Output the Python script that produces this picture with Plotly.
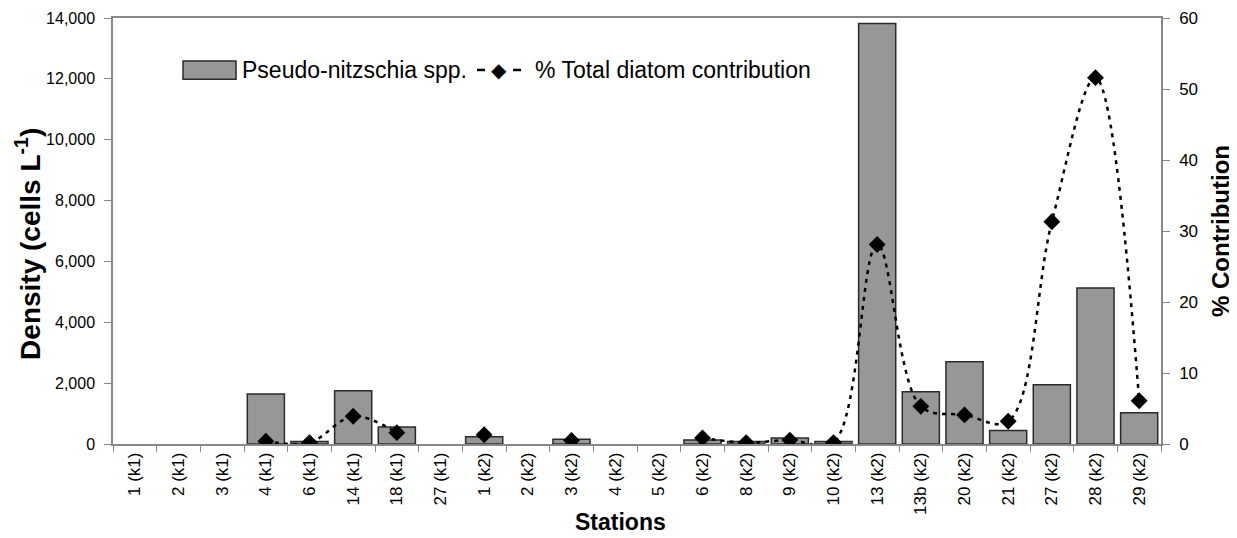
import plotly.graph_objects as go

stations = ["1 (k1)", "2 (k1)", "3 (k1)", "4 (k1)", "6 (k1)", "14 (k1)", "18 (k1)", "27 (k1)",
            "1 (k2)", "2 (k2)", "3 (k2)", "4 (k2)", "5 (k2)", "6 (k2)", "8 (k2)", "9 (k2)",
            "10 (k2)", "13 (k2)", "13b (k2)", "20 (k2)", "21 (k2)", "27 (k2)", "28 (k2)", "29 (k2)"]

density = [None, None, None, 1640, 80, 1750, 560, None,
           240, None, 160, None, None, 130, 80, 200,
           80, 13820, 1720, 2700, 440, 1950, 5130, 1030]

contribution = [None, None, None, 0.4, 0.2, 3.9, 1.6, None,
                1.3, None, 0.5, None, None, 0.85, 0.2, 0.55,
                0.2, 28.1, 5.3, 4.1, 3.2, 31.3, 51.6, 6.1]

bar_name = "Pseudo-nitzschia spp."
line_name = "% Total diatom contribution"

FONT = "Liberation Sans, Arial, sans-serif"
BAR_FILL = "#979797"
BAR_EDGE = "#2b2b2b"
AXIS = "#888888"

fig = go.Figure()
fig.add_trace(go.Bar(
    x=stations, y=density, name=bar_name,
    marker=dict(color=BAR_FILL, line=dict(color=BAR_EDGE, width=1.5)),
    yaxis="y", showlegend=False,
))
fig.add_trace(go.Scatter(
    x=stations, y=contribution, name=line_name,
    mode="lines+markers", yaxis="y2", connectgaps=False, showlegend=False,
    line=dict(color="black", width=2.5, dash="4px,5px", shape="spline", smoothing=1.0),
    marker=dict(symbol="diamond", size=13, color="black"),
))

# manual legend (paper coordinates)
lg_y = 0.878
shapes = [
    dict(type="rect", xref="paper", yref="paper", x0=0.0668, x1=0.1174, y0=0.856, y1=0.899,
         fillcolor=BAR_FILL, line=dict(color=BAR_EDGE, width=1.5)),
    dict(type="line", xref="paper", yref="paper", x0=0.3473, x1=0.3550, y0=lg_y, y1=lg_y,
         line=dict(color="black", width=2.5)),
    dict(type="line", xref="paper", yref="paper", x0=0.3817, x1=0.3893, y0=lg_y, y1=lg_y,
         line=dict(color="black", width=2.5)),
]
annotations = [
    dict(text=bar_name, xref="paper", yref="paper", x=0.1212, y=lg_y, showarrow=False,
         xanchor="left", yanchor="middle", font=dict(size=23)),
    dict(text="\u25c6", xref="paper", yref="paper", x=0.3683, y=lg_y, showarrow=False,
         xanchor="center", yanchor="middle", font=dict(size=20, color="black")),
    dict(text=line_name, xref="paper", yref="paper", x=0.4008, y=lg_y, showarrow=False,
         xanchor="left", yanchor="middle", font=dict(size=23)),
    dict(text="<b>Density (cells L<sup>-1</sup>)</b>", xref="paper", yref="paper",
         x=-0.081, y=0.47, textangle=-90, showarrow=False, font=dict(size=28),
         xanchor="center", yanchor="middle"),
    dict(text="<b>% Contribution</b>", xref="paper", yref="paper",
         x=1.0563, y=0.5, textangle=-90, showarrow=False, font=dict(size=24),
         xanchor="center", yanchor="middle"),
    dict(text="<b>Stations</b>", xref="paper", yref="paper",
         x=0.484, y=-0.183, showarrow=False, font=dict(size=23),
         xanchor="center", yanchor="middle"),
]

# The page body has an 8px margin; size the figure so the plot area lands
# where the reference has it (x 113..1161, y ~17..444 in the window).
fig.update_layout(
    width=1229, height=530,
    margin=dict(l=105, r=76, t=10, b=94, autoexpand=False),
    paper_bgcolor="white", plot_bgcolor="white",
    font=dict(family=FONT, color="black", size=17),
    bargap=0.15,
    showlegend=False,
    shapes=shapes,
    annotations=annotations,
    xaxis=dict(
        type="category", range=[-0.5, 23.5], automargin=False,
        showline=True, linecolor=AXIS, linewidth=1.5,
        mirror=True, ticks="outside", ticklen=6, tickcolor=AXIS,
        tickson="boundaries", tickangle=-90, tickfont=dict(size=17),
        showgrid=False,
    ),
    yaxis=dict(
        range=[0, 14000], dtick=2000, tickformat=",", showline=True, automargin=False,
        linecolor=AXIS, linewidth=1.5, ticks="outside", ticklen=7,
        tickcolor=AXIS, showgrid=False, zeroline=False, tickfont=dict(size=16),
        ticklabelstandoff=6, ticklabeloverflow="allow",
    ),
    yaxis2=dict(
        range=[0, 60], dtick=10, overlaying="y", side="right", showline=True,
        automargin=False,
        linecolor=AXIS, linewidth=1.5, ticks="outside", ticklen=7,
        tickcolor=AXIS, showgrid=False, zeroline=False, tickfont=dict(size=17),
        ticklabelstandoff=6, ticklabeloverflow="allow",
    ),
)

fig.write_html("out.html")
